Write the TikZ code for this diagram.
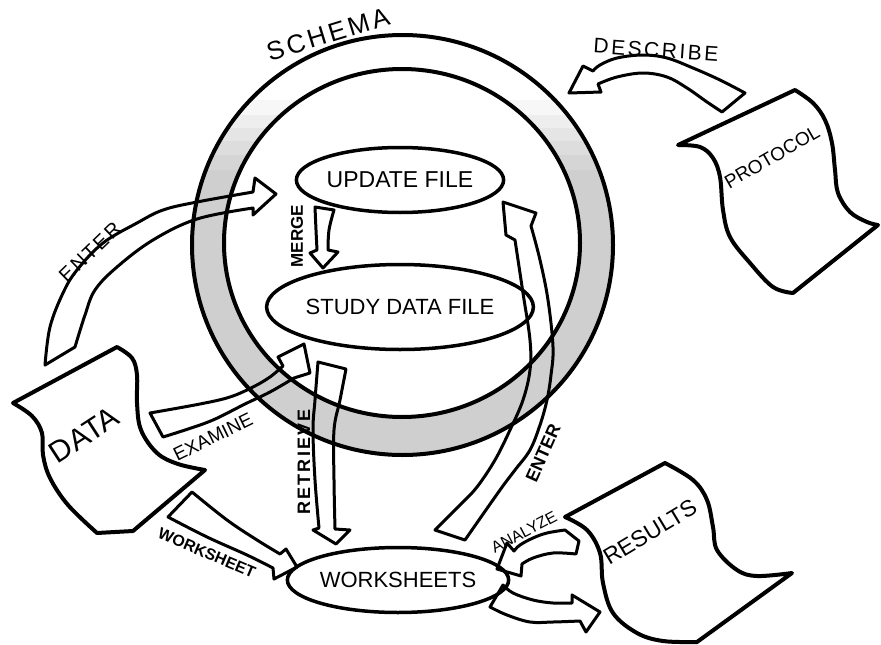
\documentclass[tikz,border=0pt]{standalone}
\usepackage{fontspec}
\setmainfont{Liberation Sans}
\newfontfamily\spaced[LetterSpace=12]{Liberation Sans}
\usetikzlibrary{shapes.geometric}
\colorlet{ringgray}{gray!38}
\newcommand\myfs[1]{\fontsize{#1}{#1}\selectfont}
\tikzset{
  ringline/.style={draw, line width=4pt},
  ol/.style={draw, line width=3pt, line join=round, line cap=round},
  docshape/.style={draw, line width=4pt, line join=round, fill=white},
  fileell/.style={ellipse, draw, line width=3.5pt, inner sep=0pt},
  lbl/.style={inner sep=0pt},
  sm/.style={smooth, tension=0.6}
}
\begin{document}
\begin{tikzpicture}[x=1pt,y=-1pt]
\useasboundingbox (0,0) rectangle (881,645);
\fill[white] (0,0) rectangle (881,645);
% ring: shaded band, white at the top
\begin{scope}
\clip (402.5,245) ellipse[x radius=210.5, y radius=210];
\fill[gray!6] (180,100) rectangle (630,115);
\fill[gray!13] (180,115) rectangle (630,128);
\fill[gray!20] (180,128) rectangle (630,141);
\fill[gray!27] (180,141) rectangle (630,155);
\fill[gray!33] (180,155) rectangle (630,170);
\fill[ringgray] (180,170) rectangle (630,460);
\end{scope}
\fill[white] (402,243) ellipse[x radius=178, y radius=174];
\draw[ringline] (402.5,245) ellipse[x radius=210.5, y radius=210];
\draw[ringline] (402,243) ellipse[x radius=178, y radius=174];
% files
\node[fileell, minimum width=196pt, minimum height=65pt, font=\myfs{23}] (upd) at (400,180) {UPDATE FILE};
\node[fileell, minimum width=256pt, minimum height=85pt, font=\myfs{22}] (sdf) at (400,307) {STUDY DATA FILE};
\node[fileell, minimum width=200pt, minimum height=65pt, font=\myfs{22}] (wks) at (398,580) {WORKSHEETS};
% documents
\draw[docshape] (13,403) -- (117,347) -- plot[sm] coordinates {(117,347) (132,358) (137,375) (137,403) (141,430) (157,453) (178,464) (205,470)} -- (133,531) -- (97,533) -- plot[sm] coordinates {(97,533) (68,505) (50,478) (43,455) (42,433) (32,416) (13,403)} -- cycle;
\draw[docshape] (678,145) -- (795,90) -- plot[sm] coordinates {(795,90) (813,103) (825,120) (832,143) (835,170) (838,193) (850,212) (867,222) (878,225)} -- (793,293) -- plot[sm] coordinates {(793,293) (773,287) (750,263) (730,237) (723,210) (720,177) (713,158) (700,147) (678,145)} -- cycle;
\draw[docshape] (565,517) -- (665,463) -- plot[sm] coordinates {(665,463) (693,480) (707,500) (713,527) (717,550) (737,570) (757,576) (792,573)} -- (697,642) -- plot[sm] coordinates {(697,642) (663,641) (637,633) (613,613) (603,583) (600,553) (587,530) (565,517)} -- cycle;
% arrows
\draw[ol] plot[sm] coordinates {(45,365) (50,327) (63,293) (77,270) (103,243) (137,223) (163,210) (197,202) (253,192)} -- (255,178) -- (276,194) -- (253,215) -- plot[sm] coordinates {(253,208) (197,219) (153,240) (117,267) (95,290) (85,315) (75,347)} -- cycle;
\draw[ol] plot[sm] coordinates {(150,413) (200,404) (230,397) (253,387) (270,377) (283,366)} -- (278,357) -- (304,344) -- (310,373) -- plot[sm] coordinates {(294,378) (270,392) (245,404) (213,420) (185,430) (163,437)} -- cycle;
\draw[ol] plot[sm] coordinates {(192,492) (227,520) (257,540) (280,554)} -- (286,549) -- (297,567) -- (274,579) -- plot[sm] coordinates {(273,568) (247,555) (207,537) (168,517)} -- cycle;
\draw[ol] plot[sm] coordinates {(318,362) (315,400) (313,430) (315,480) (319,528)} -- (313,530) -- (336,544) -- (350,530) -- plot[sm] coordinates {(335,529) (334,480) (334,430) (340,400) (346,369)} -- cycle;
\draw[ol] plot[sm] coordinates {(315,207) (316,230) (317,250)} -- (310,253) -- (323,268) -- (338,252) -- plot[sm] coordinates {(328,250) (329,230) (334,210)} -- cycle;
\draw[ol] plot[sm] coordinates {(435,530) (460,505) (477,487) (495,460) (510,430) (523,400) (530,370) (530,340) (523,293) (515,240)} -- (506,235) -- (503,202) -- (536,213) -- plot[sm] coordinates {(531,226) (540,260) (548,300) (553,347) (551,375) (547,400) (540,425) (530,450) (515,470) (500,490) (465,540)} -- cycle;
\draw[ol] plot[sm] coordinates {(565,530) (547,533) (533,538) (520,545) (514,551)} -- (507,543) -- (497,569) -- (521,576) -- plot[sm] coordinates {(522,564) (533,558) (553,553) (576,554)} -- (579,541) -- cycle;
\draw[ol] plot[sm] coordinates {(503,585) (513,593) (533,600) (553,603) (572,603)} -- (572,595) -- (600,612) -- (586,632) -- plot[sm] coordinates {(580,621) (553,622) (530,622) (507,615) (490,607)} -- cycle;
\draw[ol] plot[sm] coordinates {(745,93) (720,80) (693,68) (667,58) (643,55) (617,58) (600,65) (593,71)} -- (583,66) -- (569,93) -- (601,92) -- plot[sm] coordinates {(598,84) (617,77) (643,73) (667,77) (687,88) (707,102) (722,112)} -- cycle;
% labels
\node[lbl, rotate=17, font=\spaced\myfs{26}] (schema) at (328,34) {SCHEMA};
\node[lbl, rotate=44, font=\spaced\myfs{20}] (enterA) at (90,252) {ENTER};
\node[lbl, rotate=26, font=\myfs{19}] (examine) at (213,437) {EXAMINE};
\node[lbl, rotate=-23, font=\bfseries\myfs{16}] (wslabel) at (207,553) {WORKSHEET};
\node[lbl, rotate=90, font=\bfseries\spaced\myfs{18}] (retrieve) at (304,462) {RETRIEVE};
\node[lbl, rotate=90, font=\bfseries\myfs{17}] (merge) at (297,236) {MERGE};
\node[lbl, rotate=66, font=\bfseries\myfs{18}] (enterB) at (543,453) {ENTER};
\node[lbl, rotate=28, font=\myfs{16}] (analyze) at (524,532) {ANALYZE};
\node[lbl, rotate=-4, font=\spaced\myfs{21}] (describe) at (656,50) {DESCRIBE};
\node[lbl, rotate=33, font=\myfs{30}] (datatext) at (84,435) {DATA};
\node[lbl, rotate=30, font=\myfs{19}] (protocol) at (772,157) {PROTOCOL};
\node[lbl, rotate=31, font=\myfs{23}] (results) at (650,532) {RESULTS};
\end{tikzpicture}
\end{document}
